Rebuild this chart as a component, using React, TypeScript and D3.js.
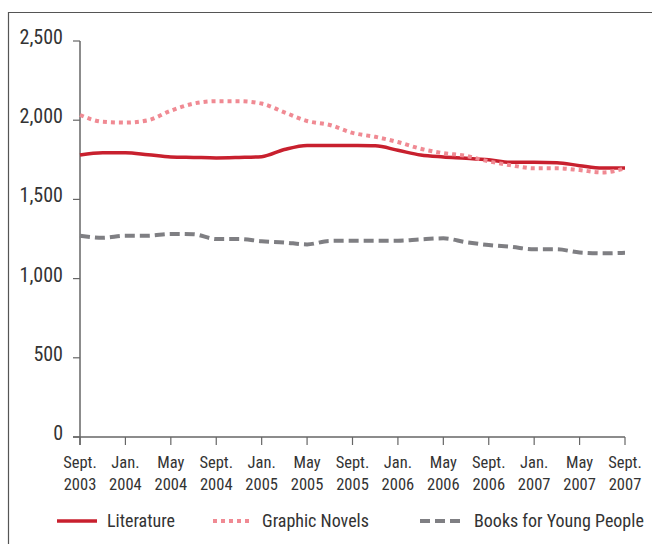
import React from "react";
import * as d3 from "d3";

const months: number[] = [0, 2, 4, 6, 8, 10, 12, 14, 16, 18, 20, 22, 24, 26, 28, 30, 32, 34, 36, 38, 40, 42, 44, 46, 48];
const literature: number[] = [1780, 1795, 1795, 1782, 1768, 1765, 1762, 1765, 1770, 1815, 1841, 1841, 1840, 1838, 1810, 1780, 1768, 1760, 1750, 1734, 1734, 1732, 1713, 1698, 1698];
const graphicNovels: number[] = [2033, 1990, 1985, 2000, 2060, 2105, 2120, 2120, 2105, 2050, 1995, 1970, 1920, 1895, 1862, 1820, 1792, 1775, 1740, 1715, 1696, 1696, 1685, 1670, 1696];
const youngPeople: number[] = [1271, 1258, 1271, 1271, 1282, 1280, 1250, 1250, 1236, 1228, 1216, 1238, 1239, 1239, 1239, 1248, 1254, 1230, 1212, 1200, 1185, 1185, 1165, 1160, 1163];
const tickMonths: number[] = [0, 4, 8, 12, 16, 20, 24, 28, 32, 36, 40, 44, 48];
const tickLabels: string[][] = [
  ["Sept.", "2003"], ["Jan.", "2004"], ["May", "2004"], ["Sept.", "2004"], ["Jan.", "2005"],
  ["May", "2005"], ["Sept.", "2005"], ["Jan.", "2006"], ["May", "2006"], ["Sept.", "2006"],
  ["Jan.", "2007"], ["May", "2007"], ["Sept.", "2007"],
];
const yTicks: number[] = [0, 500, 1000, 1500, 2000, 2500];
const seriesNames: string[] = ["Literature", "Graphic Novels", "Books for Young People"];

const FONT = "'Liberation Sans Narrow', 'Roboto Condensed', 'Arial Narrow', sans-serif";
const TEXT = "#333";

export default function App() {
  const x = d3.scaleLinear().domain([0, 48]).range([80, 625]);
  const y = d3.scaleLinear().domain([0, 2500]).range([437, 41]);
  const fmt = d3.format(",");
  const line = d3
    .line<[number, number]>()
    .x((d) => x(d[0]))
    .y((d) => y(d[1]))
    .curve(d3.curveMonotoneX);

  const series = [
    { name: seriesNames[0], values: literature, color: "#c8202e", dash: "", width: 3.5 },
    { name: seriesNames[1], values: graphicNovels, color: "#f08a93", dash: "4 4", width: 4 },
    { name: seriesNames[2], values: youngPeople, color: "#7f7f83", dash: "10 5", width: 4 },
  ];

  const legendX = [57, 213, 420];
  const legendTextX = [107, 262, 474];

  return (
    <svg width={652} height={544} style={{ position: "absolute", left: 0, top: 0, background: "#fff" }}>
      <rect x={0} y={0} width={652} height={544} fill="#fff" />
      <path d="M8.5,560 V12.5 H700" fill="none" stroke="#555" strokeWidth={1.2} />
      {/* y axis */}
      <line x1={80} x2={80} y1={y(2500)} y2={y(0) + 8} stroke="#666" strokeWidth={1.5} />
      {yTicks.map((t) => (
        <g key={t}>
          <line x1={73} x2={80} y1={y(t)} y2={y(t)} stroke="#666" strokeWidth={1.2} />
          <text x={63} y={y(t) + 3} textAnchor="end" fontFamily={FONT} fontSize={20} fill={TEXT}>
            {fmt(t)}
          </text>
        </g>
      ))}
      {/* x axis */}
      <line x1={73} x2={x(48)} y1={y(0)} y2={y(0)} stroke="#666" strokeWidth={1.5} />
      {tickMonths.map((m, i) => (
        <g key={m}>
          <line x1={x(m)} x2={x(m)} y1={y(0)} y2={y(0) + 8} stroke="#666" strokeWidth={1.2} />
          <text x={x(m)} y={468} textAnchor="middle" fontFamily={FONT} fontSize={16.5} fill={TEXT}>
            {tickLabels[i][0]}
          </text>
          <text x={x(m)} y={490} textAnchor="middle" fontFamily={FONT} fontSize={16.5} fill={TEXT}>
            {tickLabels[i][1]}
          </text>
        </g>
      ))}
      {/* lines */}
      {series.map((s) => (
        <path
          key={s.name}
          d={line(months.map((m, i) => [m, s.values[i]] as [number, number])) || ""}
          fill="none"
          stroke={s.color}
          strokeWidth={s.width}
          strokeDasharray={s.dash || undefined}
        />
      ))}
      {/* legend */}
      {series.map((s, i) => (
        <g key={s.name}>
          <line
            x1={legendX[i]}
            x2={legendX[i] + 40}
            y1={521}
            y2={521}
            stroke={s.color}
            strokeWidth={s.width}
            strokeDasharray={s.dash || undefined}
          />
          <text x={legendTextX[i]} y={527} fontFamily={FONT} fontSize={18} fill={TEXT}>
            {s.name}
          </text>
        </g>
      ))}
    </svg>
  );
}
